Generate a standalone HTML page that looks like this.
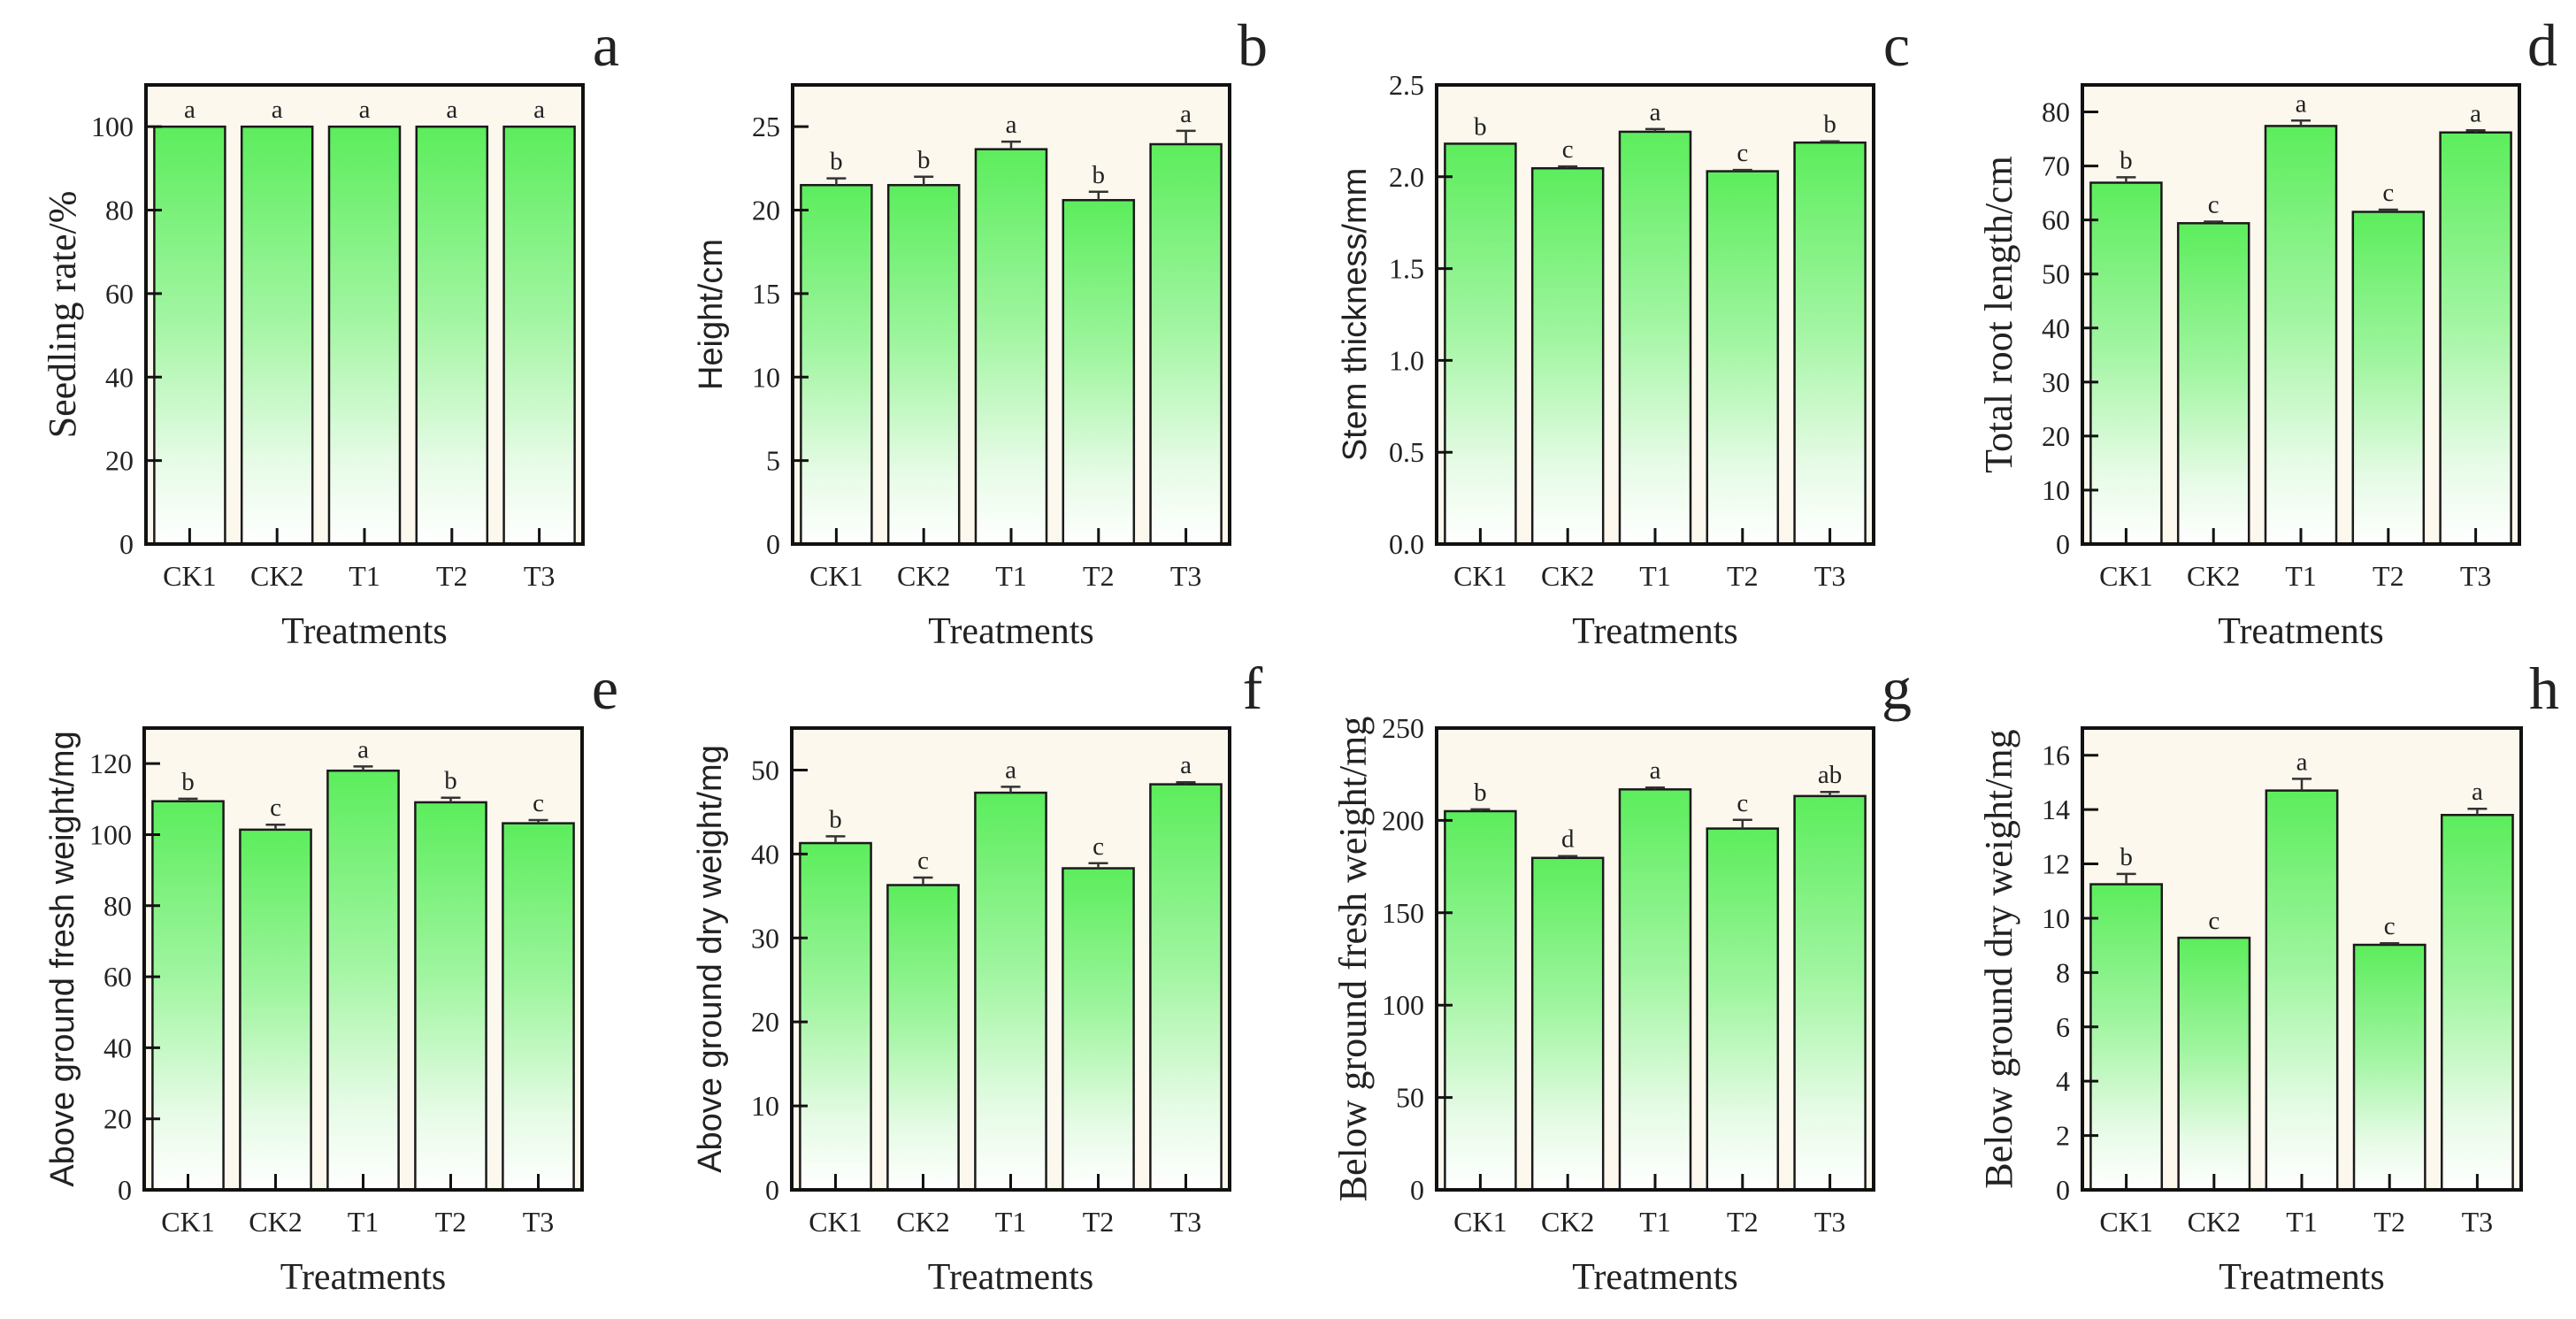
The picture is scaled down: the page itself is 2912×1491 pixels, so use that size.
<!DOCTYPE html>
<html><head><meta charset="utf-8">
<style>
html,body{margin:0;padding:0;background:#fff;}
svg{display:block;}
text{font-family:"Liberation Serif",serif;fill:#222;}
.sans{font-family:"Liberation Sans",sans-serif;}
</style></head>
<body>
<svg id="fig" width="2912" height="1491" viewBox="0 0 2912 1491" xmlns="http://www.w3.org/2000/svg">
<defs>
<linearGradient id="barGrad" x1="0" y1="0" x2="0" y2="1">
<stop offset="0" stop-color="#5ced5c"/>
<stop offset="0.45" stop-color="#a0f5a0"/>
<stop offset="0.8" stop-color="#e6fbe6"/>
<stop offset="1" stop-color="#ffffff"/>
</linearGradient>
</defs>
</svg>
<script>
const categories = ["CK1","CK2","T1","T2","T3"];
const valsA = [100,100,100,100,100];
const errA = [0,0,0,0,0];
const sigA = ["a","a","a","a","a"];
const valsB = [21.5,21.5,23.65,20.6,23.95];
const errB = [0.4,0.5,0.45,0.5,0.8];
const sigB = ["b","b","a","b","a"];
const valsC = [2.18,2.046,2.245,2.03,2.186];
const errC = [0,0.01,0.015,0.007,0.007];
const sigC = ["b","c","a","c","b"];
const valsD = [66.9,59.4,77.4,61.5,76.2];
const errD = [1,0.3,1,0.4,0.4];
const sigD = ["b","c","a","c","a"];
const valsE = [109.4,101.4,118,109.1,103.2];
const errE = [0.7,1.4,1.2,1.3,0.9];
const sigE = ["b","c","a","b","c"];
const valsF = [41.3,36.3,47.3,38.3,48.3];
const errF = [0.8,0.9,0.7,0.6,0.25];
const sigF = ["b","c","a","c","a"];
const valsG = [205,179.7,216.8,195.6,213.2];
const errG = [1,1,1,4.7,2.2];
const sigG = ["b","d","a","c","ab"];
const valsH = [11.25,9.28,14.7,9.02,13.8];
const errH = [0.38,0,0.43,0.06,0.23];
const sigH = ["b","c","a","c","a"];
const ticksA = ["0","20","40","60","80","100"];
const ticksB = ["0","5","10","15","20","25"];
const ticksC = ["0.0","0.5","1.0","1.5","2.0","2.5"];
const ticksD = ["0","10","20","30","40","50","60","70","80"];
const ticksE = ["0","20","40","60","80","100","120"];
const ticksF = ["0","10","20","30","40","50"];
const ticksG = ["0","50","100","150","200","250"];
const ticksH = ["0","2","4","6","8","10","12","14","16"];

const NS="http://www.w3.org/2000/svg";
const svg=document.getElementById('fig');
function mk(tag,attrs,parent){const e=document.createElementNS(NS,tag);for(const k in attrs)e.setAttribute(k,attrs[k]);(parent||svg).appendChild(e);return e;}

const panels=[
 {id:"a",x:165,y:96,w:494,h:519,max:110,vals:valsA,err:errA,sig:sigA,ticks:ticksA,label:"Seedling rate/%",sans:false},
 {id:"b",x:896,y:96,w:494,h:519,max:27.5,vals:valsB,err:errB,sig:sigB,ticks:ticksB,label:"Height/cm",sans:true},
 {id:"c",x:1624,y:96,w:494,h:519,max:2.5,vals:valsC,err:errC,sig:sigC,ticks:ticksC,label:"Stem thickness/mm",sans:true},
 {id:"d",x:2354,y:96,w:494,h:519,max:85,vals:valsD,err:errD,sig:sigD,ticks:ticksD,label:"Total root length/cm",sans:false},
 {id:"e",x:163,y:823,w:495,h:522,max:130,vals:valsE,err:errE,sig:sigE,ticks:ticksE,label:"Above ground fresh weight/mg",sans:true},
 {id:"f",x:895,y:823,w:495,h:522,max:55,vals:valsF,err:errF,sig:sigF,ticks:ticksF,label:"Above ground dry weight/mg",sans:true},
 {id:"g",x:1624,y:823,w:494,h:522,max:250,vals:valsG,err:errG,sig:sigG,ticks:ticksG,label:"Below ground fresh weight/mg",sans:false},
 {id:"h",x:2354,y:823,w:496,h:522,max:17,vals:valsH,err:errH,sig:sigH,ticks:ticksH,label:"Below ground dry weight/mg",sans:false}
];

panels.forEach(p=>{
  const g=mk('g',{});
  
  
  const yS=v=>p.y+p.h-(v/p.max)*p.h;
  const slot=p.w/categories.length;
  const xC=i=>p.x+slot*(i+0.5);
  const bg=mk('rect',{x:p.x,y:p.y,width:p.w,height:p.h,fill:'#fdf8ee'},g);
  
  
  const bw=slot*0.81;
  p.vals.forEach((v,i)=>{
    const top=yS(v);
    const r=mk('rect',{x:xC(i)-bw/2,y:top,width:bw,height:p.y+p.h-top,fill:'url(#barGrad)',stroke:'#1a1a1a','stroke-width':2.5},g);
    
    
    const e=p.err[i];
    if(e>0){
      const ey=yS(v+e);
      const el=mk('path',{d:`M${xC(i)} ${top} V${ey} M${xC(i)-11} ${ey} H${xC(i)+11}`,stroke:'#333','stroke-width':2.5,fill:'none'},g);
      
      
    }
    const st=mk('text',{x:xC(i),y:yS(v+e)-10,'text-anchor':'middle','font-size':29},g);
    st.textContent=p.sig[i];
    
    
    mk('line',{x1:xC(i),x2:xC(i),y1:p.y+p.h,y2:p.y+p.h-18,stroke:'#111','stroke-width':3},g);
    const xl=mk('text',{x:xC(i),y:p.y+p.h+47,'text-anchor':'middle','font-size':32},g);
    xl.textContent=categories[i];
    
    
  });
  p.ticks.forEach((t,k)=>{
    const yy=yS(parseFloat(t));
    mk('line',{x1:p.x,x2:p.x+18,y1:yy,y2:yy,stroke:'#111','stroke-width':3},g);
    const tl=mk('text',{x:p.x-14,y:yy+11,'text-anchor':'end','font-size':32},g);
    tl.textContent=t;
    
    
  });
  const fr=mk('rect',{x:p.x,y:p.y,width:p.w,height:p.h,fill:'none',stroke:'#111','stroke-width':4},g);
  
  
  const cy=p.y+p.h/2, cx=p.x-90;
  const yl=mk('text',{x:cx,y:cy,'text-anchor':'middle','dominant-baseline':'middle','font-size':p.sans?38:44,transform:`rotate(-90 ${cx} ${cy})`},g);
  if(p.sans) yl.setAttribute('class','sans');
  yl.textContent=p.label;
  
  
  const xt=mk('text',{x:p.x+p.w/2,y:p.y+p.h+112,'text-anchor':'middle','font-size':42},g);
  xt.textContent="Treatments";
  
  
  const pl=mk('text',{x:p.x+p.w+26,y:p.y-22,'text-anchor':'middle','font-size':68},g);
  pl.textContent=p.id;
  
  
});
</script>
</body></html>
